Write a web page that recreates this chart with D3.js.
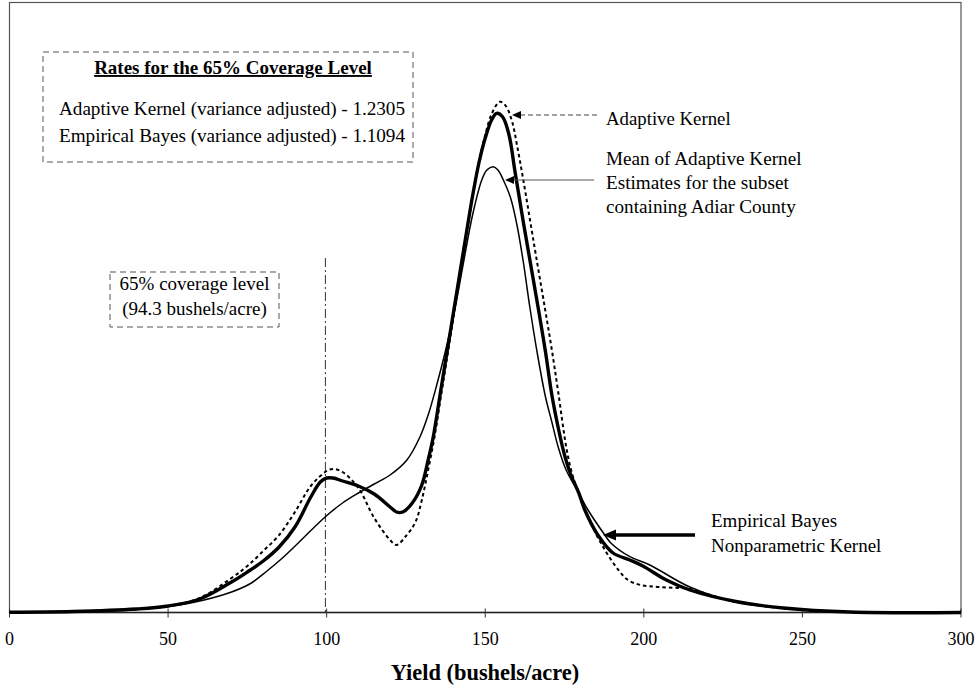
<!DOCTYPE html>
<html>
<head>
<meta charset="utf-8">
<script src="https://cdn.jsdelivr.net/npm/d3@7"></script>
<style>
  html, body { margin: 0; padding: 0; background: #fff; }
  svg { display: block; }
  text { font-family: "Liberation Serif", "Times New Roman", Times, serif; fill: #000; }
</style>
</head>
<body>
<svg id="chart" width="979" height="687" font-family="Liberation Serif, Times New Roman, serif"></svg>
<script>
// ---- Data (yield in bushels/acre, density in units of 10^-3 per bushel) ----
const akYield = [0,20,40,50,60,70,75,80,85,90,95,100,102,105,110,115,120,122,125,128,130,132,134,136,138,140,142,144,146,148,150,152,154.6,156.5,158.5,160,162,165,168.8,171,173,175.7,177.5,179.5,181.4,185.1,188.3,192,195,199,205,214.5,220,229,240,250,265,300];
const akDensity = [0.015,0.05,0.175,0.325,0.725,1.725,2.325,3.075,3.875,5.025,6.325,7.075,7.175,7.025,6.225,4.725,3.625,3.375,3.825,4.525,5.625,7.125,8.775,10.775,12.775,14.775,16.775,18.775,20.825,22.525,23.875,24.925,25.54,25.325,24.525,23.375,21.625,18.775,15.225,13.125,11.025,8.125,6.875,5.975,5.125,3.875,2.975,2.125,1.625,1.375,1.275,1.175,0.925,0.525,0.275,0.125,0.025,0];

const ebYield = [0,20,40,50,60,70,75,80,85,90,95,98,100,102,105,110,115,120,122,124,127,130,132,133.6,136,138,140,142,144,146,148,150,152,153.6,155.5,157.5,159.4,162,166.7,169,171,173.5,175,177,179.5,181.4,185.5,190.3,195.6,199.7,207.1,214.5,229,244,265,300];
const ebDensity = [0.015,0.05,0.175,0.325,0.675,1.525,2.025,2.575,3.275,4.275,5.775,6.525,6.725,6.725,6.575,6.325,5.925,5.275,5.025,5.025,5.475,6.375,7.625,8.775,11.125,13.075,15.025,16.975,18.925,20.825,22.475,23.725,24.625,24.96,24.775,23.875,22.025,19.525,15.225,13.025,10.875,8.875,7.875,6.875,5.975,5.125,3.875,2.975,2.625,2.325,1.625,1.125,0.55,0.225,0.025,0];

const meanYield = [0,20,40,50,60,70,76,81,86.4,92,99.5,105,110,115,120,125.3,129.4,132,134.7,137.3,140.5,143,146,148.9,150.5,152.5,154,155.7,158,160,162,164.1,166.5,169,171,173,175.5,179.5,182.4,187.7,189.6,195.6,201.9,214.5,229,244,265,300];
const meanDensity = [0.01,0.035,0.15,0.3,0.575,1.025,1.45,2.05,2.775,3.625,4.775,5.475,5.975,6.425,6.875,7.625,8.775,9.875,11.375,12.975,15.225,17.375,19.875,21.625,22.125,22.29,22.125,21.625,20.725,19.375,17.525,15.225,12.875,10.775,9.525,8.275,7.125,5.975,5.125,3.875,3.475,2.79,2.375,1.275,0.525,0.225,0.025,0];

const xTicks = [0,50,100,150,200,250,300];
const coverageYield = 99.6;

const boxTitle = "Rates for the 65% Coverage Level";
const boxLines = ["Adaptive Kernel (variance adjusted) - 1.2305", "Empirical Bayes (variance adjusted) - 1.1094"];
const coverageLines = ["65% coverage level", "(94.3 bushels/acre)"];
const akLabel = ["Adaptive Kernel"];
const meanLabel = ["Mean of Adaptive Kernel", "Estimates for the subset", "containing Adiar County"];
const ebLabel = ["Empirical Bayes", "Nonparametric Kernel"];
const xTitle = "Yield (bushels/acre)";

// ---- Drawing ----
const svg = d3.select("#chart");
const x = d3.scaleLinear().domain([0, 300]).range([9.5, 961]);
const y = d3.scaleLinear().domain([0, 30.5]).range([612.5, 2.5]);

// plot frame
svg.append("rect")
  .attr("x", x(0)).attr("y", y(30.5))
  .attr("width", x(300) - x(0)).attr("height", y(0) - y(30.5))
  .attr("fill", "none").attr("stroke", "#555").attr("stroke-width", 1.2);

// x axis
const axis = svg.append("g").attr("transform", `translate(0,${y(0)})`);
axis.append("line").attr("x1", x(0)).attr("x2", x(300))
  .attr("stroke", "#222").attr("stroke-width", 1.6);
axis.selectAll("line.tick").data(xTicks).enter().append("line")
  .attr("class", "tick")
  .attr("x1", d => x(d)).attr("x2", d => x(d))
  .attr("y1", -4).attr("y2", 5)
  .attr("stroke", "#333").attr("stroke-width", 1);
axis.selectAll("text").data(xTicks).enter().append("text")
  .attr("x", d => x(d)).attr("y", 32.5)
  .attr("text-anchor", "middle")
  .attr("font-size", 18)
  .text(d => d);

svg.append("text")
  .attr("x", 485).attr("y", 680)
  .attr("text-anchor", "middle")
  .attr("font-size", 22.4).attr("font-weight", "bold")
  .text(xTitle);

// coverage vertical line
svg.append("line")
  .attr("x1", x(coverageYield)).attr("x2", x(coverageYield))
  .attr("y1", 258).attr("y2", y(0))
  .attr("stroke", "#333").attr("stroke-width", 1)
  .attr("stroke-dasharray", "9,3,2,3");

// curves
const line = d3.line().x(d => x(d[0])).y(d => y(d[1])).curve(d3.curveCatmullRom.alpha(0.5));
const zip = (a, b) => a.map((v, i) => [v, b[i]]);

svg.append("path").datum(zip(meanYield, meanDensity))
  .attr("d", line).attr("fill", "none")
  .attr("stroke", "#000").attr("stroke-width", 1.5);
svg.append("path").datum(zip(akYield, akDensity))
  .attr("d", line).attr("fill", "none")
  .attr("stroke", "#000").attr("stroke-width", 2)
  .attr("stroke-dasharray", "3.5,3");
svg.append("path").datum(zip(ebYield, ebDensity))
  .attr("d", line).attr("fill", "none")
  .attr("stroke", "#000").attr("stroke-width", 3.4);

// rates box
svg.append("rect").attr("x", 43).attr("y", 52).attr("width", 370).attr("height", 110)
  .attr("fill", "none").attr("stroke", "#555").attr("stroke-width", 1)
  .attr("stroke-dasharray", "6,4");
svg.append("text").attr("x", 233).attr("y", 74).attr("text-anchor", "middle")
  .attr("font-size", 19).attr("font-weight", "bold")
  .attr("text-decoration", "underline").text(boxTitle);
svg.selectAll("text.boxline").data(boxLines).enter().append("text")
  .attr("class", "boxline")
  .attr("x", 59).attr("y", (d, i) => 115 + i * 26.5)
  .attr("font-size", 19.2)
  .attr("textLength", 346).attr("lengthAdjust", "spacing")
  .text(d => d);

// coverage box
svg.append("rect").attr("x", 110).attr("y", 272).attr("width", 169).attr("height", 55)
  .attr("fill", "none").attr("stroke", "#555").attr("stroke-width", 1)
  .attr("stroke-dasharray", "6,4");
svg.selectAll("text.cov").data(coverageLines).enter().append("text")
  .attr("class", "cov")
  .attr("x", 194.5).attr("y", (d, i) => 290 + i * 25)
  .attr("text-anchor", "middle")
  .attr("font-size", 19).text(d => d);

// arrows
function arrow(x1, x2, yy, width, dash, headL, headH, color) {
  svg.append("line").attr("x1", x1).attr("x2", x2 + headL - 1).attr("y1", yy).attr("y2", yy)
    .attr("stroke", color).attr("stroke-width", width)
    .attr("stroke-dasharray", dash);
  svg.append("path")
    .attr("d", `M${x2},${yy} L${x2 + headL},${yy - headH / 2} L${x2 + headL},${yy + headH / 2} Z`)
    .attr("fill", "#000");
}
arrow(597, 512, 115, 1, "5,3", 9, 8, "#444");
arrow(594, 505, 180, 1, null, 9, 8, "#555");
arrow(695, 603, 535, 3.4, null, 13, 11, "#000");

// labels
svg.selectAll("text.ak").data(akLabel).enter().append("text")
  .attr("class", "ak").attr("x", 606).attr("y", (d, i) => 125 + i * 24)
  .attr("font-size", 18.8).text(d => d);
svg.selectAll("text.mean").data(meanLabel).enter().append("text")
  .attr("class", "mean").attr("x", 606).attr("y", (d, i) => 164.5 + i * 24)
  .attr("font-size", 19.2).text(d => d);
svg.selectAll("text.eb").data(ebLabel).enter().append("text")
  .attr("class", "eb").attr("x", 711).attr("y", (d, i) => 527 + i * 24.5)
  .attr("font-size", 19).text(d => d);
</script>
</body>
</html>
